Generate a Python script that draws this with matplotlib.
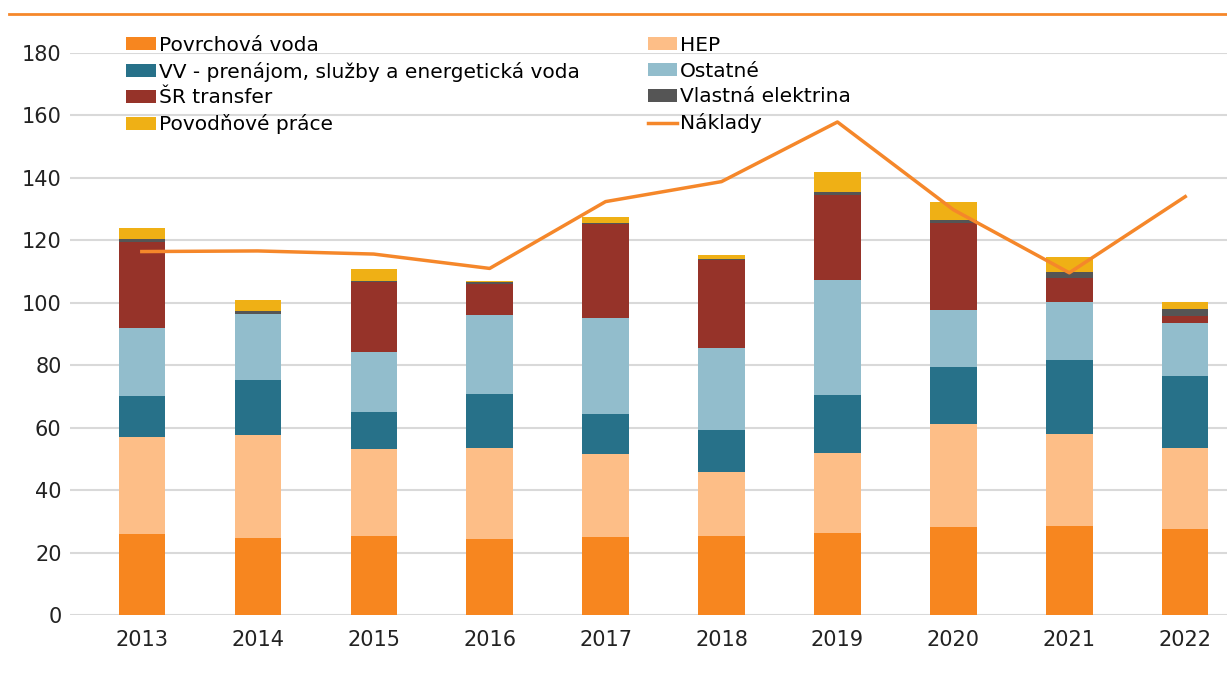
import matplotlib
matplotlib.use('Agg')
import matplotlib.pyplot as plt
from matplotlib.patches import Patch
from matplotlib.lines import Line2D
import numpy as np

plt.rcParams['font.family'] = ['DejaVu Sans']

years = ['2013', '2014', '2015', '2016', '2017', '2018', '2019', '2020', '2021', '2022']

# stacked components (mil. EUR)
povrchova_voda = [25.8, 24.6, 25.3, 24.2, 25.0, 25.4, 26.2, 28.1, 28.4, 27.6]
hep = [31.1, 33.1, 27.8, 29.2, 26.6, 20.4, 25.8, 33.0, 29.7, 25.9]
vv = [13.3, 17.5, 11.8, 17.5, 12.9, 13.4, 18.6, 18.2, 23.5, 23.1]
ostatne = [21.6, 21.1, 19.2, 25.1, 30.7, 26.2, 36.8, 18.3, 18.5, 16.8]
sr_transfer = [27.6, 0.0, 22.5, 10.1, 29.9, 28.2, 27.1, 28.1, 7.9, 2.4]
vlastna_elektrina = [1.0, 1.1, 0.5, 0.4, 0.6, 0.5, 1.1, 0.7, 2.0, 2.1]
povodnove_prace = [3.7, 3.5, 3.7, 0.5, 1.9, 1.3, 6.4, 6.0, 4.8, 2.2]
naklady = [116.4, 116.6, 115.6, 111.0, 132.4, 138.8, 157.9, 129.8, 109.6, 134.0]

series = [
    ('Povrchová voda', povrchova_voda, '#f7861f'),
    ('HEP', hep, '#fdbe87'),
    ('VV - prenájom, služby a energetická voda', vv, '#277189'),
    ('Ostatné', ostatne, '#92bdcc'),
    ('ŠR transfer', sr_transfer, '#963329'),
    ('Vlastná elektrina', vlastna_elektrina, '#555555'),
    ('Povodňové práce', povodnove_prace, '#efb015'),
]
line_color = '#f5872a'

fig = plt.figure(figsize=(12.27, 6.75), dpi=100)
ax = fig.add_axes([0.057, 0.0889, 0.943, 0.8326])

x = np.arange(len(years))
bottom = np.zeros(len(years))
handles = {}
for name, vals, color in series:
    ax.bar(x, vals, width=0.4, bottom=bottom, color=color, zorder=2)
    handles[name] = Patch(facecolor=color, edgecolor='none')
    bottom += np.array(vals)

ax.plot(x, naklady, color=line_color, lw=2.5, zorder=3)
handles['Náklady'] = Line2D([], [], color=line_color, lw=2.5)

ax.set_ylim(0, 180)
ax.set_xlim(-0.62, 9.36)
ax.set_yticks(range(0, 181, 20))
ax.set_xticks(x)
ax.set_xticklabels(years)
ax.grid(axis='y', color='#d9d9d9', lw=1.5, zorder=0)
ax.set_axisbelow(True)
for s in ax.spines.values():
    s.set_visible(False)
ax.tick_params(length=0, labelsize=15, colors='#222222', pad=11)
ax.tick_params(axis='y', pad=6)

# top orange rule
fig.add_artist(Line2D([0.007, 1.0], [0.979, 0.979], color=line_color, lw=2))

leg_kw = dict(frameon=False, fontsize=14.5, handlelength=1.45, handleheight=0.6,
              handletextpad=0.15, labelspacing=0.34, borderaxespad=0, borderpad=0)
col1 = ['Povrchová voda', 'VV - prenájom, služby a energetická voda', 'ŠR transfer', 'Povodňové práce']
col2 = ['HEP', 'Ostatné', 'Vlastná elektrina', 'Náklady']
l1 = fig.legend([handles[n] for n in col1], col1, loc='upper left',
                bbox_to_anchor=(0.103, 0.947), **leg_kw)
l2 = fig.legend([handles[n] for n in col2], col2, loc='upper left',
                bbox_to_anchor=(0.528, 0.947), **leg_kw)

fig.savefig('out.png', dpi=100)
